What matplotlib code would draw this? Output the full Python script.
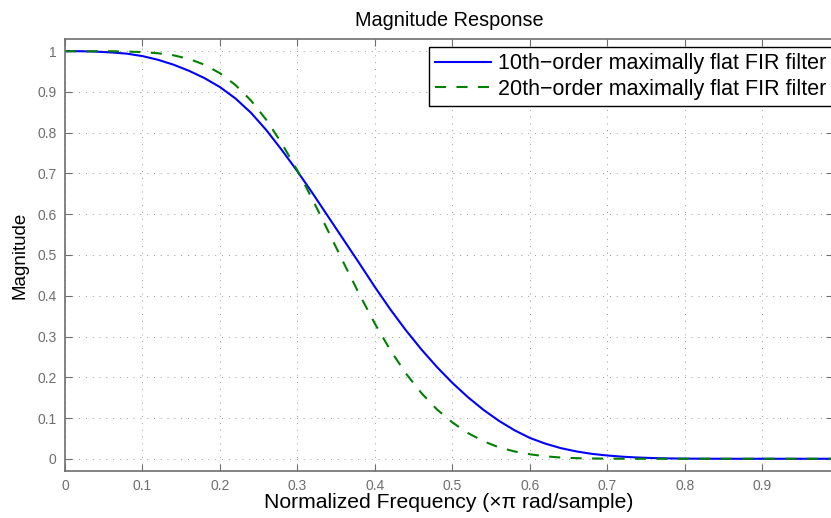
import matplotlib
matplotlib.use("Agg")
import matplotlib.pyplot as plt

# Frequency axis (x pi rad/sample) and magnitudes
freq = [0.00, 0.02, 0.04, 0.06, 0.08, 0.10, 0.12, 0.14, 0.16, 0.18,
        0.20, 0.22, 0.24, 0.26, 0.28, 0.30, 0.32, 0.34, 0.36, 0.38,
        0.40, 0.42, 0.44, 0.46, 0.48, 0.50, 0.52, 0.54, 0.56, 0.58,
        0.60, 0.62, 0.64, 0.66, 0.68, 0.70, 0.72, 0.74, 0.76, 0.78,
        0.80, 0.82, 0.84, 0.86, 0.88, 0.90, 0.92, 0.94, 0.96, 0.98, 0.99]

mag_order10 = [1.000, 1.000, 0.999, 0.997, 0.994, 0.988, 0.979, 0.967, 0.952, 0.934,
               0.912, 0.884, 0.849, 0.806, 0.757, 0.705, 0.650, 0.593, 0.536, 0.479,
               0.421, 0.366, 0.315, 0.268, 0.225, 0.186, 0.151, 0.120, 0.093, 0.070,
               0.051, 0.037, 0.026, 0.018, 0.012, 0.008, 0.005, 0.003, 0.0017, 0.0009,
               0.0004, 0.0002, 0.0001, 0.0, 0.0, 0.0, 0.0, 0.0, 0.0, 0.0, 0.0]

mag_order20 = [1.000, 1.000, 1.000, 1.000, 0.999, 0.998, 0.995, 0.990, 0.981, 0.967,
               0.946, 0.917, 0.879, 0.831, 0.773, 0.707, 0.634, 0.557, 0.479, 0.403,
               0.331, 0.266, 0.209, 0.161, 0.121, 0.089, 0.063, 0.043, 0.028, 0.018,
               0.011, 0.006, 0.003, 0.0015, 0.0007, 0.0003, 0.0001, 0.0, 0.0, 0.0,
               0.0, 0.0, 0.0, 0.0, 0.0, 0.0, 0.0, 0.0, 0.0, 0.0, 0.0]

labels = ["10th\u2212order maximally flat FIR filter",
          "20th\u2212order maximally flat FIR filter"]
x_ticks = [0, 0.1, 0.2, 0.3, 0.4, 0.5, 0.6, 0.7, 0.8, 0.9]
x_tick_labels = ["0", "0.1", "0.2", "0.3", "0.4", "0.5", "0.6", "0.7", "0.8", "0.9"]
y_ticks = [0, 0.1, 0.2, 0.3, 0.4, 0.5, 0.6, 0.7, 0.8, 0.9, 1.0]
y_tick_labels = ["0", "0.1", "0.2", "0.3", "0.4", "0.5", "0.6", "0.7", "0.8", "0.9", "1"]

plt.rcParams["font.family"] = ["Liberation Sans", "DejaVu Sans"]

W, H = 831, 518
fig = plt.figure(figsize=(W / 100, H / 100), dpi=100)
ax = fig.add_axes([65 / W, 47 / H, 768 / W, 432 / H])

ax.plot(freq, mag_order10, color="#0000ff", lw=1.5, label=labels[0])
ax.plot(freq, mag_order20, color="#008000", lw=1.5, linestyle=(0, (5.3, 5.0)),
        label=labels[1])

ax.set_xlim(0, 0.991)
ax.set_ylim(-0.03, 1.03)
ax.set_xticks(x_ticks)
ax.set_xticklabels(x_tick_labels)
ax.set_yticks(y_ticks)
ax.set_yticklabels(y_tick_labels)

axis_gray = "#6e6e6e"
for side in ax.spines.values():
    side.set_color(axis_gray)
    side.set_linewidth(1.2)
ax.tick_params(direction="in", top=True, right=True, length=5, width=0.8,
               color=axis_gray, labelcolor=axis_gray, labelsize=10, pad=6)
ax.grid(True, color="#9a9a9a", linestyle=(0, (1, 6)), linewidth=0.7)

ax.set_title("Magnitude Response", fontsize=14.3, pad=9)
ax.set_xlabel("Normalized Frequency (\u00d7\u03c0 rad/sample)", fontsize=15.2, labelpad=0)
ax.set_ylabel("Magnitude", fontsize=13.5, labelpad=6)

leg = ax.legend(loc="upper right", bbox_to_anchor=(833 / W, 1 - 47 / H),
                bbox_transform=fig.transFigure, fontsize=15.5, frameon=True,
                fancybox=False, framealpha=1, edgecolor="black", borderpad=0.3,
                labelspacing=0.2, handlelength=2.6, handletextpad=0.32,
                borderaxespad=0)
leg.get_frame().set_linewidth(1.0)

fig.savefig("out.png", dpi=100)
